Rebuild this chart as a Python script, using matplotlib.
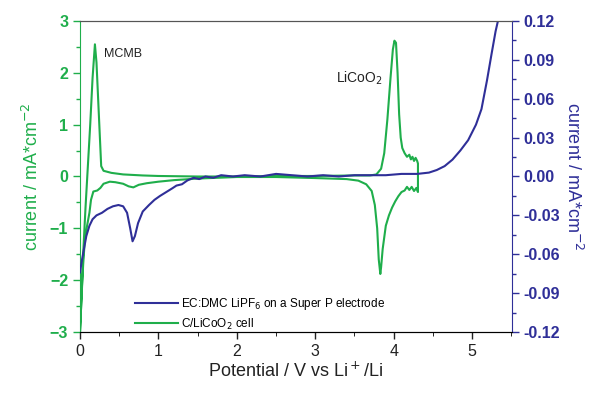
import matplotlib.pyplot as plt
from matplotlib.ticker import MultipleLocator, FormatStrFormatter

plt.rcParams['font.family'] = ['Liberation Sans', 'DejaVu Sans']

GREEN = '#1fae4b'
BLUE = '#2f2f98'

# C/LiCoO2 full cell CV (left axis, mA/cm2) - anodic then cathodic sweep
cell_v = [0.0, 0.02, 0.04, 0.07, 0.10, 0.13, 0.16, 0.19, 0.21, 0.24, 0.27, 0.30,
          0.40, 0.55, 0.80, 1.00, 1.50, 2.00, 2.50, 3.00, 3.50, 3.70, 3.78,
          3.84, 3.88, 3.92, 3.96, 3.99, 4.01, 4.03, 4.05, 4.07, 4.09, 4.11,
          4.14, 4.17, 4.20, 4.22, 4.24, 4.26, 4.28, 4.30, 4.31, 4.31,
          4.29, 4.26, 4.23, 4.20, 4.17, 4.14, 4.10, 4.06, 4.02, 3.98, 3.94,
          3.90, 3.86, 3.84, 3.83, 3.81, 3.79, 3.76, 3.72, 3.65, 3.55, 3.40,
          3.00, 2.50, 2.00, 1.50, 1.20, 1.00, 0.85, 0.75, 0.68, 0.62, 0.55,
          0.45, 0.38, 0.30, 0.26, 0.22, 0.17, 0.14, 0.12, 0.09, 0.06, 0.04,
          0.02, 0.0]
cell_i = [-3.0, -2.3, -1.5, -0.6, 0.2, 1.0, 1.9, 2.55, 2.2, 1.2, 0.2, 0.11,
          0.07, 0.04, 0.02, 0.01, 0.0, 0.0, 0.01, 0.01, 0.02, 0.02, 0.04,
          0.15, 0.45, 1.1, 1.9, 2.45, 2.62, 2.58, 2.0, 1.2, 0.75, 0.55,
          0.45, 0.38, 0.42, 0.33, 0.38, 0.30, 0.36, 0.30, 0.25, -0.30,
          -0.22, -0.28, -0.20, -0.26, -0.20, -0.27, -0.30, -0.38, -0.48, -0.60, -0.75,
          -0.95, -1.40, -1.75, -1.88, -1.60, -1.00, -0.55, -0.28, -0.15, -0.08, -0.05,
          -0.03, -0.01, -0.01, -0.04, -0.07, -0.10, -0.13, -0.16, -0.21, -0.19, -0.14,
          -0.11, -0.10, -0.14, -0.22, -0.27, -0.29, -0.45, -0.70, -0.95, -1.25, -1.70,
          -2.30, -3.0]

# EC:DMC LiPF6 on Super P (right axis, mA/cm2)
sp_v = [0.0, 0.02, 0.05, 0.08, 0.12, 0.16, 0.21, 0.28, 0.35, 0.42, 0.49, 0.55,
        0.60, 0.64, 0.67, 0.70, 0.74, 0.80, 0.88, 0.95, 1.02, 1.10, 1.18, 1.23,
        1.30, 1.37, 1.45, 1.52, 1.60, 1.70, 1.80, 1.95, 2.10, 2.30, 2.50, 2.70,
        2.90, 3.10, 3.30, 3.50, 3.70, 3.90, 4.10, 4.30, 4.45, 4.55, 4.65, 4.75,
        4.85, 4.95, 5.05, 5.12, 5.19, 5.25, 5.30, 5.33]
sp_i = [-0.074, -0.066, -0.056, -0.046, -0.038, -0.033, -0.030, -0.028, -0.025, -0.023, -0.022, -0.023,
        -0.028, -0.040, -0.050, -0.046, -0.036, -0.027, -0.022, -0.018, -0.015, -0.012, -0.009, -0.007,
        -0.006, -0.003, -0.001, -0.002, 0.000, -0.001, 0.001, 0.000, 0.001, 0.000, 0.002, 0.001,
        0.000, 0.001, 0.000, 0.001, 0.001, 0.001, 0.002, 0.002, 0.003, 0.005, 0.008, 0.013,
        0.020, 0.028, 0.040, 0.052, 0.074, 0.095, 0.112, 0.120]

fig = plt.figure(figsize=(5.91, 3.96), dpi=100)
ax = fig.add_axes([0.1354, 0.1616, 0.7310, 0.7854])
ax2 = ax.twinx()

l_cell, = ax.plot(cell_v, cell_i, color=GREEN, lw=1.5)
l_sp, = ax2.plot(sp_v, sp_i, color=BLUE, lw=1.5)

ax.set_xlim(0, 5.51)
ax.set_ylim(-3, 3)
ax2.set_ylim(-0.12, 0.12)

ax.xaxis.set_major_locator(MultipleLocator(1))
ax.xaxis.set_minor_locator(MultipleLocator(0.5))
ax.yaxis.set_major_locator(MultipleLocator(1))
ax.yaxis.set_minor_locator(MultipleLocator(0.5))
ax2.yaxis.set_major_locator(MultipleLocator(0.03))
ax2.yaxis.set_minor_locator(MultipleLocator(0.015))
ax2.yaxis.set_major_formatter(FormatStrFormatter('%.2f'))

ax.tick_params(axis='x', direction='out', length=5, width=1, labelsize=11.5, colors='#222222')
ax.tick_params(axis='x', which='minor', direction='out', length=3)
ax.tick_params(axis='y', which='both', direction='out', colors=GREEN, labelsize=11.5, width=1)
ax.tick_params(axis='y', which='major', length=5)
ax.tick_params(axis='y', which='minor', length=3)
ax2.tick_params(axis='y', which='both', direction='out', colors=BLUE, labelsize=11.5, width=1)
ax2.tick_params(axis='y', which='major', length=5)
ax2.tick_params(axis='y', which='minor', length=3)
for lab in ax.get_yticklabels() + ax2.get_yticklabels():
    lab.set_fontweight('bold')

ax.spines['left'].set_color(GREEN)
ax2.spines['left'].set_visible(False)
ax2.spines['right'].set_color(BLUE)
ax.spines['right'].set_visible(False)
ax.spines['top'].set_color('#555555')
ax2.spines['top'].set_color('#555555')
ax.spines['bottom'].set_color('#222222')

ax.set_ylabel('current / mA*cm$^{-2}$', color=GREEN, fontsize=13, labelpad=6)
ax2.set_ylabel('current / mA*cm$^{-2}$', color=BLUE, fontsize=13, rotation=270, labelpad=16)
ax.set_xlabel('Potential / V vs Li$^+$/Li', color='#222222', fontsize=13, labelpad=2)

ax.text(0.31, 2.3, 'MCMB', fontsize=9, color='#222222')
ax.text(3.26, 1.82, 'LiCoO$_2$', fontsize=10, color='#222222')

ax2.legend([l_sp, l_cell], ['EC:DMC LiPF$_6$ on a Super P electrode', 'C/LiCoO$_2$ cell'],
           loc='lower left', bbox_to_anchor=(0.114, -0.018), frameon=False, fontsize=8.5,
           handlelength=3.6, borderpad=0.0, labelspacing=0.35, handletextpad=0.3)

fig.savefig('out.png', dpi=100)
